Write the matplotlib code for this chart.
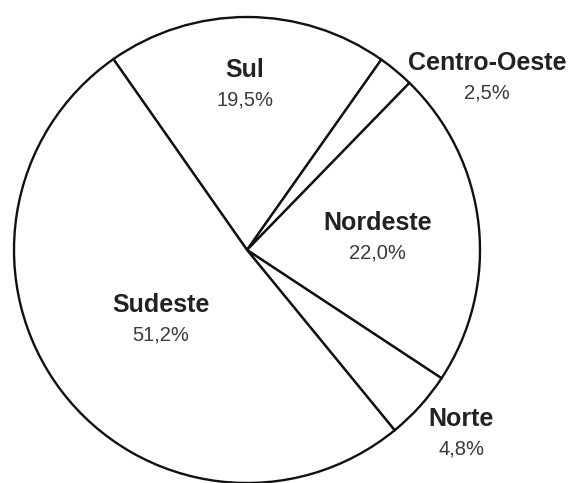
import matplotlib.pyplot as plt

# regiões e participação (%)
regioes = ['Sul', 'Centro-Oeste', 'Nordeste', 'Norte', 'Sudeste']
valores = [19.5, 2.5, 22.0, 4.8, 51.2]
rotulos = ['19,5%', '2,5%', '22,0%', '4,8%', '51,2%']

# posição dos rótulos em unidades do raio (relativo ao centro)
pos_rotulos = [(-0.01, 0.71), (1.03, 0.74), (0.56, 0.05), (0.92, -0.79), (-0.37, -0.30)]

W, H = 575, 483
cx, cy, r = 247, H - 250, 233

plt.rcParams['font.family'] = ['Liberation Sans', 'DejaVu Sans']

fig = plt.figure(figsize=(W / 100, H / 100), dpi=100)
ax = fig.add_axes([0, 0, 1, 1])

ax.pie(valores, startangle=125, counterclock=False, center=(cx, cy), radius=r,
       colors=['white'] * len(valores),
       wedgeprops=dict(edgecolor='#111111', linewidth=1.7))

for nome, pct, (dx, dy) in zip(regioes, rotulos, pos_rotulos):
    x = cx + dx * r
    y = cy + dy * r
    ax.text(x, y + 15, nome, ha='center', va='center', fontsize=18,
            fontweight='bold', color='#222222')
    ax.text(x, y - 15, pct, ha='center', va='center', fontsize=14.5,
            color='#3a3a3a')

ax.set_xlim(0, W)
ax.set_ylim(0, H)
ax.set_aspect('equal')
ax.axis('off')

fig.savefig('out.png', dpi=100)
